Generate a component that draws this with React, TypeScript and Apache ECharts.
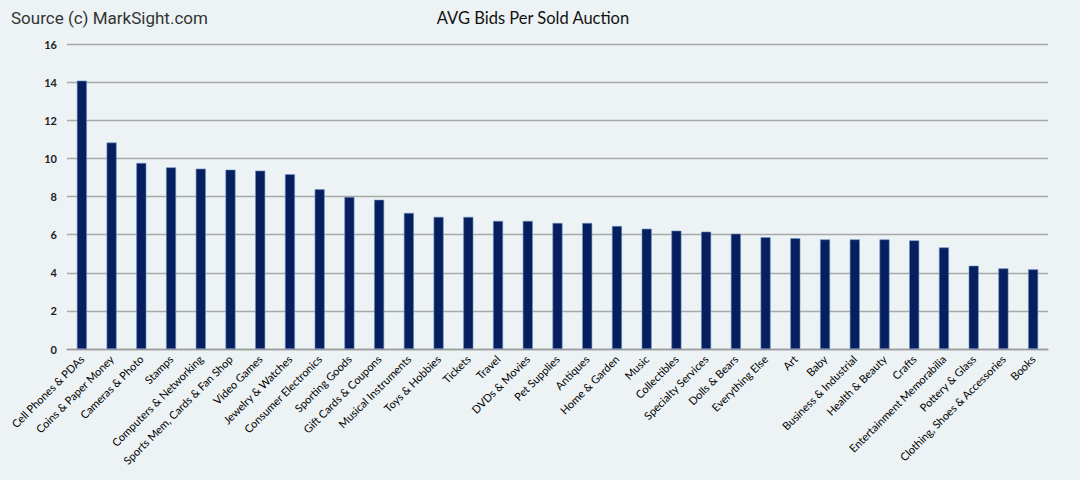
import React, { useEffect, useRef } from "react";
import * as echarts from "echarts";

const categories: string[] = [
  "Cell Phones & PDAs",
  "Coins & Paper Money",
  "Cameras & Photo",
  "Stamps",
  "Computers & Networking",
  "Sports Mem, Cards & Fan Shop",
  "Video Games",
  "Jewelry & Watches",
  "Consumer Electronics",
  "Sporting Goods",
  "Gift Cards & Coupons",
  "Musical Instruments",
  "Toys & Hobbies",
  "Tickets",
  "Travel",
  "DVDs & Movies",
  "Pet Supplies",
  "Antiques",
  "Home & Garden",
  "Music",
  "Collectibles",
  "Specialty Services",
  "Dolls & Bears",
  "Everything Else",
  "Art",
  "Baby",
  "Business & Industrial",
  "Health & Beauty",
  "Crafts",
  "Entertainment Memorabilia",
  "Pottery & Glass",
  "Clothing, Shoes & Accessories",
  "Books",
];

const avgBids: number[] = [
  14.08, 10.83, 9.76, 9.53, 9.46, 9.41, 9.36, 9.17, 8.38, 7.97,
  7.83, 7.14, 6.93, 6.93, 6.72, 6.72, 6.61, 6.61, 6.45, 6.31,
  6.21, 6.16, 6.05, 5.86, 5.81, 5.75, 5.75, 5.75, 5.7, 5.33,
  4.37, 4.23, 4.18,
];

const yTicks = { min: 0, max: 16, interval: 2 };

export default function App() {
  const ref = useRef<HTMLDivElement>(null);

  useEffect(() => {
    document.body.style.margin = "0";
    if (!ref.current) return;
    const chart = echarts.init(ref.current, undefined, { renderer: "svg" });
    chart.setOption({
      animation: false,
      backgroundColor: "#edf3f5",
      title: [
        {
          text: "Source (c) MarkSight.com",
          left: 11,
          top: 9,
          padding: 0,
          textStyle: {
            fontFamily: "Roboto",
            fontSize: 17,
            fontWeight: "normal",
            color: "#333333",
          },
        },
        {
          text: "AVG Bids Per Sold Auction",
          left: 533,
          textAlign: "center",
          top: 9,
          padding: 0,
          textStyle: {
            fontFamily: "Lato",
            fontSize: 16.5,
            fontWeight: "normal",
            color: "#111111",
          },
        },
      ],
      grid: { left: 67, right: 32, top: 44, bottom: 131, containLabel: false },
      xAxis: {
        type: "category",
        data: categories,
        axisTick: { show: false },
        axisLine: { lineStyle: { color: "#9a9a9a", width: 1.3 } },
        axisLabel: {
          rotate: 45,
          interval: 0,
          margin: 8,
          fontFamily: "Lato",
          fontSize: 11,
          color: "#000000",
        },
      },
      yAxis: {
        type: "value",
        min: yTicks.min,
        max: yTicks.max,
        interval: yTicks.interval,
        axisLine: { show: false },
        axisTick: { show: false },
        axisLabel: {
          margin: 10,
          fontFamily: "Lato",
          fontSize: 11,
          fontWeight: "bold",
          color: "#222222",
        },
        splitLine: { lineStyle: { color: "#a8a8a8", width: 1.3 } },
      },
      series: [
        {
          type: "bar",
          data: avgBids,
          barWidth: 10,
          itemStyle: {
            color: "#061f5f",
            borderColor: "#6f8fc4",
            borderWidth: 0.6,
          },
        },
      ],
    });
    return () => chart.dispose();
  }, []);

  return <div ref={ref} style={{ width: 1080, height: 480 }} />;
}
